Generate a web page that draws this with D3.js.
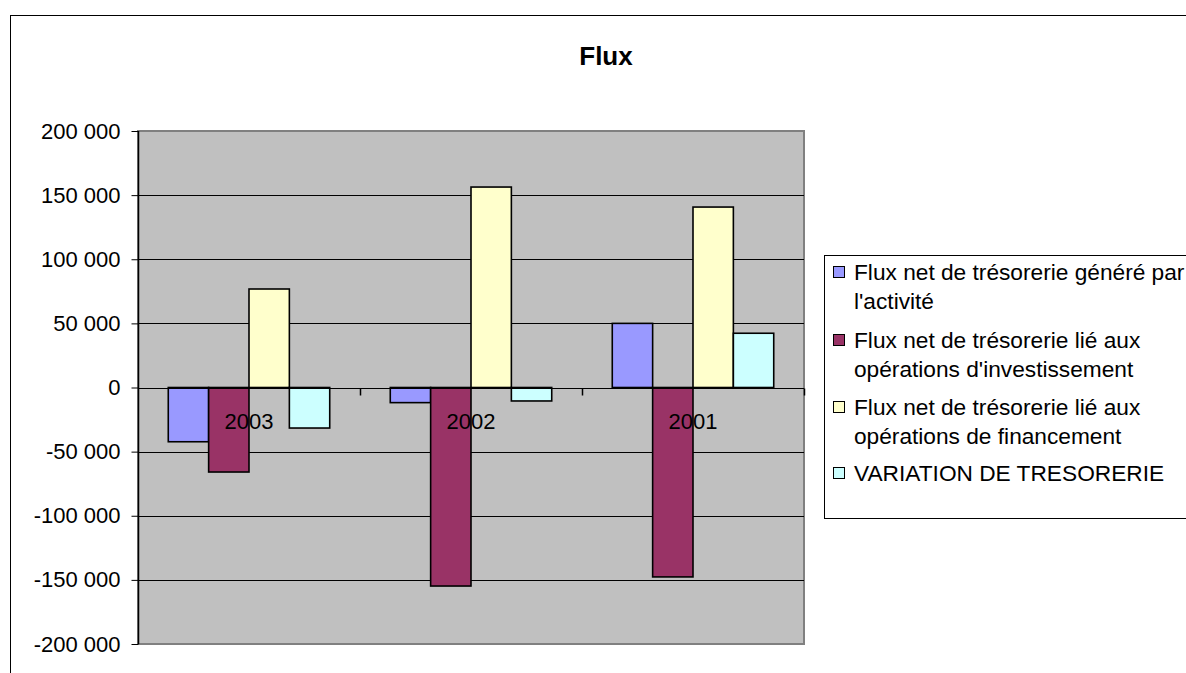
<!DOCTYPE html>
<html>
<head>
<meta charset="utf-8">
<script src="https://cdn.jsdelivr.net/npm/d3@7"></script>
<style>
  html, body { margin: 0; padding: 0; background: #fff; }
  svg { display: block; font-family: "Liberation Sans", Arial, sans-serif; }
</style>
</head>
<body>
<svg id="chart" width="1186" height="673"></svg>
<script>
// Years shown on the category axis
const categories = ["2003", "2002", "2001"];

// Cash-flow series (one value per year, same order as categories)
const seriesNames = [
  "Flux net de trésorerie généré par l'activité",
  "Flux net de trésorerie lié aux opérations d'investissement",
  "Flux net de trésorerie lié aux opérations de financement",
  "VARIATION DE TRESORERIE"
];
const fluxActivite      = [-42300, -11800, 50000];
const fluxInvestissement = [-65900, -154800, -147700];
const fluxFinancement   = [76800, 156300, 140700];
const variationTresorerie = [-31600, -10500, 42300];

// Legend labels, already split over lines
const legendLines = [
  ["Flux net de trésorerie généré par", "l'activité"],
  ["Flux net de trésorerie lié aux", "opérations d'investissement"],
  ["Flux net de trésorerie lié aux", "opérations de financement"],
  ["VARIATION DE TRESORERIE"]
];

// Value axis ticks
const yTicks = [-200000, -150000, -100000, -50000, 0, 50000, 100000, 150000, 200000];

const seriesValues = [fluxActivite, fluxInvestissement, fluxFinancement, variationTresorerie];
const colors = ["#9999FF", "#993366", "#FFFFCC", "#CCFFFF"];

const svg = d3.select("#chart");

// Outer frame (runs off the right and bottom edges)
svg.append("rect")
  .attr("x", 10.5).attr("y", 15.5)
  .attr("width", 1300).attr("height", 800)
  .attr("fill", "#fff").attr("stroke", "#000").attr("stroke-width", 1);

// Title
svg.append("text")
  .attr("x", 606).attr("y", 65)
  .attr("text-anchor", "middle")
  .attr("font-size", 26).attr("font-weight", "bold")
  .text("Flux");

const plot = { left: 138, right: 804, top: 131, bottom: 644 };

const y = d3.scaleLinear().domain([-200000, 200000]).range([plot.bottom, plot.top]);
const x0 = d3.scaleBand().domain(categories).range([plot.left, plot.right]).padding(0);
const x1 = d3.scaleBand().domain(d3.range(seriesNames.length))
  .range([0, x0.bandwidth()]).paddingInner(0).paddingOuter(0.75);

const fr = d3.formatLocale({ decimal: ",", thousands: "\u00a0", grouping: [3], currency: ["", ""], minus: "-" });
const fmt = v => fr.format(",d")(v).replace(/\u00a0/g, " ");

// Plot area background
svg.append("rect")
  .attr("x", plot.left).attr("y", plot.top)
  .attr("width", plot.right - plot.left).attr("height", plot.bottom - plot.top)
  .attr("fill", "#C0C0C0").attr("stroke", "#808080").attr("stroke-width", 2);

// Horizontal gridlines
svg.append("g")
  .selectAll("line")
  .data(yTicks.filter(t => t !== 200000 && t !== -200000))
  .join("line")
  .attr("x1", plot.left).attr("x2", plot.right)
  .attr("y1", d => Math.round(y(d)) + 0.5).attr("y2", d => Math.round(y(d)) + 0.5)
  .attr("stroke", "#000").attr("stroke-width", 1);

// Bars
const groups = svg.append("g")
  .selectAll("g")
  .data(categories)
  .join("g")
  .attr("transform", d => `translate(${x0(d)},0)`);

groups.selectAll("rect")
  .data((c, ci) => seriesValues.map((vals, si) => ({ si, v: vals[ci] })))
  .join("rect")
  .attr("x", d => x1(d.si))
  .attr("width", x1.bandwidth())
  .attr("y", d => y(Math.max(0, d.v)))
  .attr("height", d => Math.abs(y(d.v) - y(0)))
  .attr("fill", d => colors[d.si])
  .attr("stroke", "#000").attr("stroke-width", 1.6);

// Category axis at zero with tick marks between groups
const zeroY = Math.round(y(0)) + 0.5;
svg.append("line")
  .attr("x1", plot.left).attr("x2", plot.right)
  .attr("y1", zeroY).attr("y2", zeroY)
  .attr("stroke", "#000").attr("stroke-width", 1);
svg.append("g")
  .selectAll("line")
  .data(categories.map(c => x0(c) + x0.bandwidth()))
  .join("line")
  .attr("x1", d => Math.round(d) + 0.5).attr("x2", d => Math.round(d) + 0.5)
  .attr("y1", zeroY).attr("y2", zeroY + 7)
  .attr("stroke", "#000").attr("stroke-width", 1.5);

// Category labels
svg.append("g")
  .selectAll("text")
  .data(categories)
  .join("text")
  .attr("x", d => x0(d) + x0.bandwidth() / 2)
  .attr("y", y(0) + 41)
  .attr("text-anchor", "middle")
  .attr("font-size", 22)
  .text(d => d);

// Value axis
const yAxis = d3.axisLeft(y).tickValues(yTicks).tickFormat(fmt).tickSize(7).tickPadding(11);
const ag = svg.append("g")
  .attr("transform", `translate(${plot.left + 0.5},0)`)
  .call(yAxis);
ag.select(".domain").attr("stroke", "#000").attr("stroke-width", 1.5).attr("d", `M0,${plot.top}V${plot.bottom}`);
ag.selectAll(".tick line").attr("stroke", "#000").attr("stroke-width", 1);
ag.selectAll(".tick text")
  .attr("font-size", 22)
  .attr("font-family", "\"Liberation Sans\", Arial, sans-serif")
  .attr("fill", "#000");

// Legend
const legend = svg.append("g");
legend.append("rect")
  .attr("x", 824.5).attr("y", 255.5)
  .attr("width", 500).attr("height", 263)
  .attr("fill", "#fff").attr("stroke", "#000").attr("stroke-width", 1);

const entryY = [272, 340, 407, 473];
const items = legend.selectAll("g.item")
  .data(legendLines)
  .join("g")
  .attr("class", "item")
  .attr("transform", (d, i) => `translate(0,${entryY[i]})`);

items.append("rect")
  .attr("x", 833.5).attr("y", -5.5)
  .attr("width", 11).attr("height", 11)
  .attr("fill", (d, i) => colors[i])
  .attr("stroke", "#000").attr("stroke-width", 1);

items.selectAll("text")
  .data(d => d)
  .join("text")
  .attr("x", 854)
  .attr("y", (d, j) => j * 29 + 8)
  .attr("font-size", 22.7)
  .text(d => d);
</script>
</body>
</html>
